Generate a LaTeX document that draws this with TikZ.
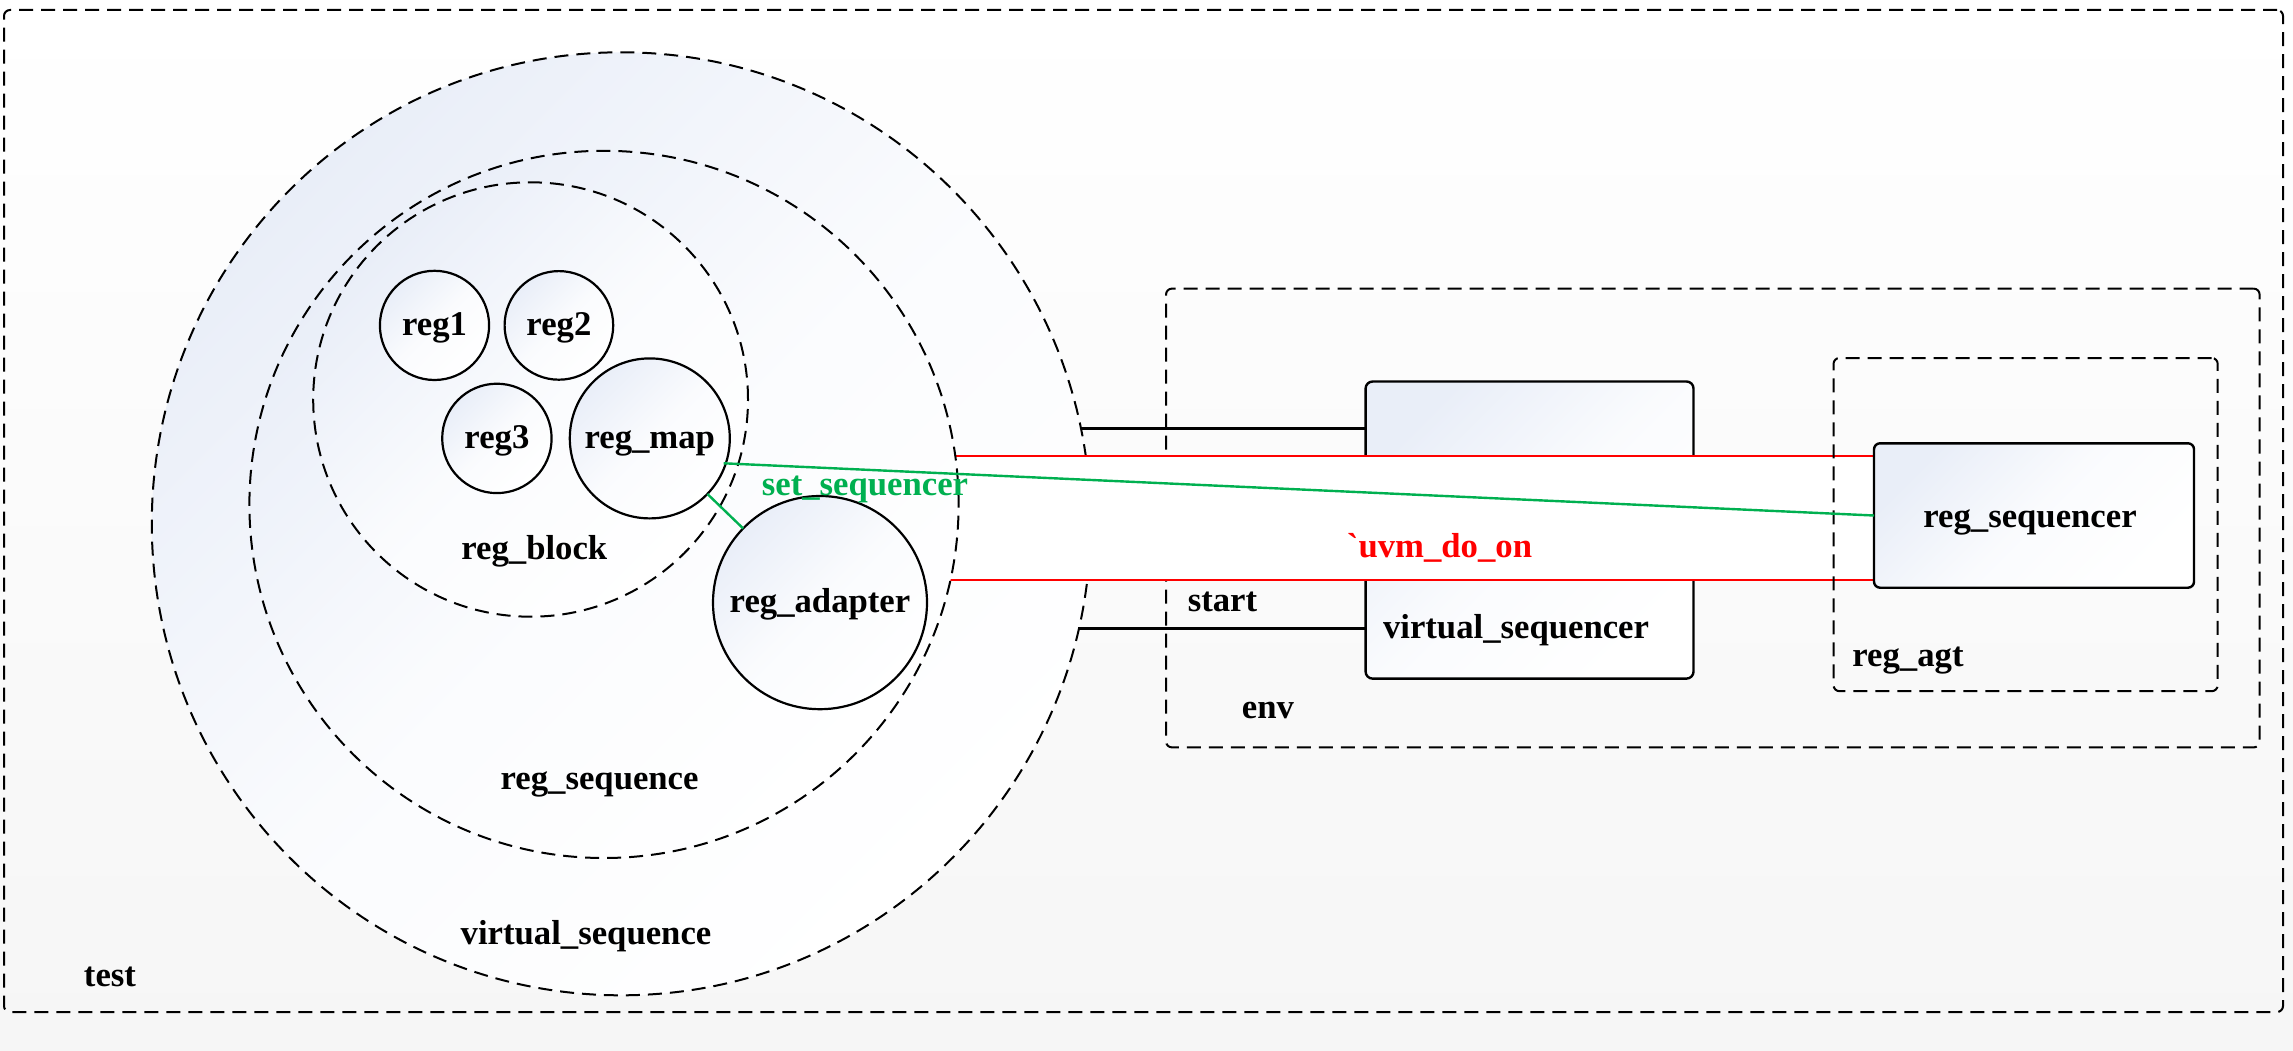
\documentclass[tikz,border=0pt]{standalone}
\usepackage{fontspec}
\newfontfamily\lbs{Liberation Serif}
\usetikzlibrary{shapes.geometric,calc}
\pgfdeclarelayer{back}
\pgfdeclarelayer{bandlayer}
\pgfsetlayers{back,bandlayer,main}
\definecolor{shBlue}{RGB}{233,238,248}
\definecolor{canvasGray}{RGB}{246,246,246}
\definecolor{lineGreen}{RGB}{0,176,80}
\definecolor{lineRed}{RGB}{255,0,0}
\tikzset{
  lbl/.style={font=\lbs\fontsize{34.7}{40}\selectfont\bfseries, inner sep=0pt, anchor=base},
  softshade/.style={top color=shBlue, bottom color=white, middle color=shBlue!22!white, shading angle=45},
  dashbox/.style={rectangle, draw=black, line width=2pt, dash pattern=on 14pt off 8pt,
    rounded corners=6pt, inner sep=0pt, outer sep=0pt},
  dashell/.style={ellipse, draw=black, line width=2pt, dash pattern=on 14pt off 8pt,
    inner sep=0pt, outer sep=0pt, softshade},
  regell/.style={ellipse, draw=black, line width=2.2pt, inner sep=0pt, outer sep=0pt,
    softshade, font=\lbs\fontsize{34.7}{40}\selectfont\bfseries},
  solidbox/.style={rectangle, draw=black, line width=2.4pt, rounded corners=7pt,
    inner sep=0pt, outer sep=0pt, softshade},
  blackconn/.style={draw=black, line width=2.4pt},
  redconn/.style={draw=lineRed, line width=2.8pt},
  greenconn/.style={draw=lineGreen, line width=2.4pt},
}
\newcommand{\zw}[1]{\makebox[0pt]{\raisebox{-10pt}[0pt][0pt]{#1}}}
\begin{document}
\begin{tikzpicture}[x=1pt,y=-1pt]
\useasboundingbox (0,0) rectangle (2293,1051);
\begin{pgfonlayer}{back}
  \shade[top color=white, bottom color=canvasGray] (0,0) rectangle (2293,1051);
  \node[dashbox, minimum width=2279pt, minimum height=1002pt] (test) at (1143.5,511) {};
  \node[dashell, minimum width=938.8pt, minimum height=943pt] (vseq) at (621.2,523.8) {};
  \node[dashbox, minimum width=1093.6pt, minimum height=458.8pt] (env) at (1712.8,518) {};
  \node[solidbox, minimum width=327.9pt, minimum height=297.1pt] (vsqr) at (1529.55,530.05) {};
\end{pgfonlayer}

% main layer shapes
\node[dashell, minimum width=709.2pt, minimum height=707.2pt] (rseq) at (604,504.4) {};
\node[dashell, minimum width=434.8pt, minimum height=434.4pt] (rblock) at (530.6,399.5) {};
\node[regell, minimum width=109.2pt, minimum height=109.2pt] (reg1) at (434.5,325.4) {\zw{reg1}};
\node[regell, minimum width=108.6pt, minimum height=108.6pt] (reg2) at (558.9,325.4) {\zw{reg2}};
\node[regell, minimum width=109.4pt, minimum height=109.4pt] (reg3) at (496.9,438.4) {\zw{reg3}};
\node[regell, minimum width=160pt, minimum height=160pt] (rmap) at (649.8,438.4) {\zw{reg\_map}};
\node[regell, minimum width=214pt, minimum height=213.2pt] (radp) at (820,602.6) {\zw{reg\_adapter}};
\node[dashbox, minimum width=384.2pt, minimum height=333.2pt] (ragt) at (2025.6,524.6) {};
\node[solidbox, rounded corners=6pt, minimum width=320pt, minimum height=144.4pt] (rsqr) at (2034,515.5) {};

% band with red edges
\begin{pgfonlayer}{bandlayer}
  \coordinate (redtop) at ([shift={(351.3,-48.4)}]rseq.center);
  \coordinate (redbot) at ([shift={(346.4,75.6)}]rseq.center);
  \fill[white] (redtop -| rseq.center) rectangle (redbot -| rsqr.west);
  \draw[redconn] (redtop) -- (redtop -| rsqr.west);
  \draw[redconn] (redbot) -- (redbot -| rsqr.west);
\end{pgfonlayer}

% black connectors
\coordinate (blktop) at ([shift={(459.7,-95.3)}]vseq.center);
\coordinate (blkbot) at ([shift={(457.7,104.7)}]vseq.center);
\draw[blackconn] (blktop) -- (blktop -| vsqr.west);
\draw[blackconn] (blkbot) -- (blkbot -| vsqr.west);

% green connectors
\draw[greenconn] ([shift={(73.9,24.9)}]rmap.center) -- (rsqr.west);
\draw[greenconn] (rmap) -- (radp);

% labels
\node[lbl] (ltest) at (110,986.5) {test};
\node[lbl] (lvseq) at (586,944) {virtual\_sequence};
\node[lbl] (lrseq) at (599.6,789.6) {reg\_sequence};
\node[lbl] (lrblock) at (534.3,559.5) {reg\_block};
\node[lbl, text=lineGreen] (lset) at (865,495) {set\_sequencer};
\node[lbl, text=lineRed] (luvm) at (1439.5,557.3) {`uvm\_do\_on};
\node[lbl] (lstart) at (1222.5,611.3) {start};
\node[lbl] (lvsqr) at (1516,638.6) {virtual\_sequencer};
\node[lbl] (lenv) at (1268,718.3) {env};
\node[lbl] (lragt) at (1908,666.7) {reg\_agt};
\node[lbl] (lrsqr) at (2030,527.3) {reg\_sequencer};
\end{tikzpicture}
\end{document}
